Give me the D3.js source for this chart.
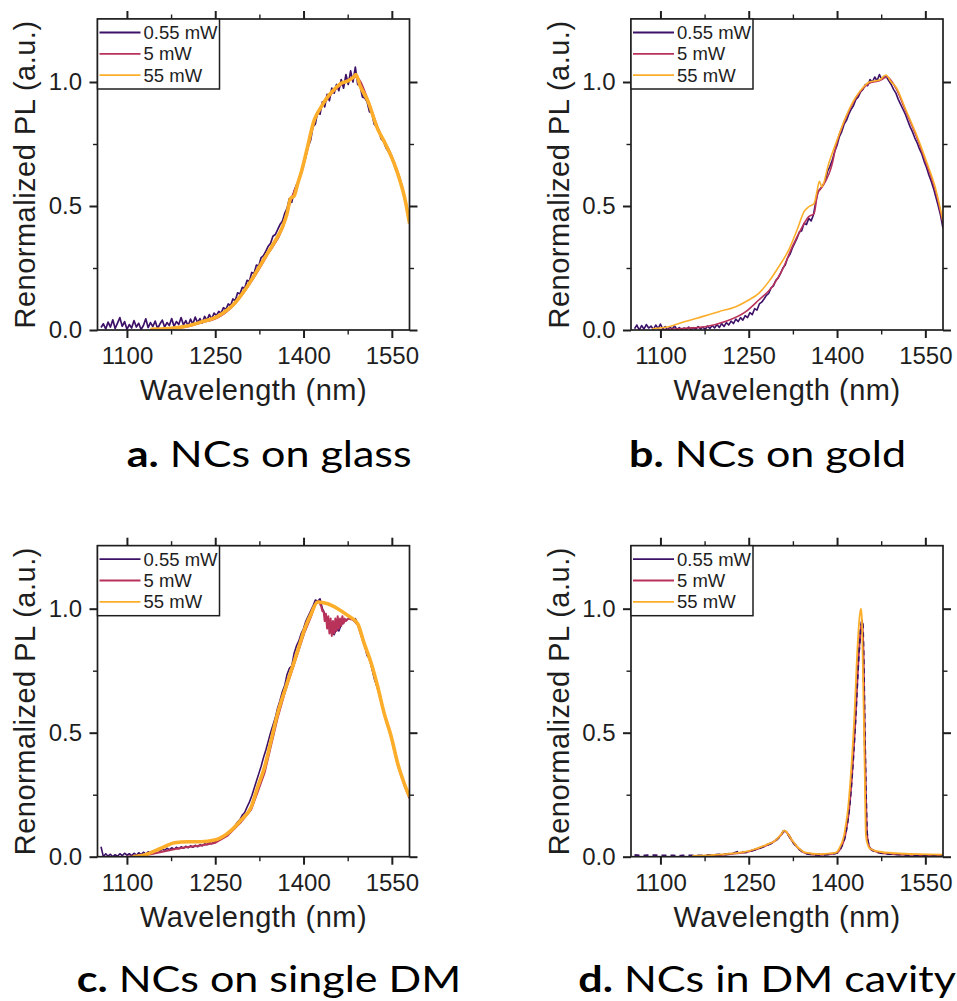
<!DOCTYPE html>
<html><head><meta charset="utf-8">
<script src="https://cdn.jsdelivr.net/npm/d3@7"></script>
<style>body{margin:0;background:#fff}svg{display:block}</style>
</head><body>
<svg id="chart" width="957" height="1001"></svg>
<script>
// ---------------- DATA ----------------
const seriesNames = ["0.55 mW", "5 mW", "55 mW"];
const seriesColors = ["#3d1168", "#b8325a", "#fcae2a"];
const xTickValues = [1100, 1250, 1400, 1550];
const xMinorTicks = [1175, 1325, 1475];
const yTickValues = [0, 0.5, 1.0];
const yTickLabels = ["0.0", "0.5", "1.0"];
const yMinorTicks = [0.25, 0.75];
const xTitle = "Wavelength (nm)";
const yTitle = "Renormalized PL (a.u.)";
const captionLetters = ["a.", "b.", "c.", "d."];
const captionTexts = [" NCs on glass", " NCs on gold", " NCs on single DM", " NCs in DM cavity"];

// spectrometer sampling (nm) for the noisy 0.55 mW traces
const wavelengthGrid = [
1056,1060,1064,1068,1072,1076,1080,1084,1088,1092,
1096,1100,1104,1108,1112,1116,1120,1124,1128,1132,
1136,1140,1144,1148,1152,1156,1160,1164,1168,1172,
1176,1180,1184,1188,1192,1196,1200,1204,1208,1212,
1216,1220,1224,1228,1232,1236,1240,1244,1248,1252,
1256,1260,1264,1268,1272,1276,1280,1284,1288,1292,
1296,1300,1304,1308,1312,1316,1320,1324,1328,1332,
1336,1340,1344,1348,1352,1356,1360,1364,1368,1372,
1376,1380,1384,1388,1392,1396,1400,1404,1408,1412,
1416,1420,1424,1428,1432,1436,1440,1444,1448,1452,
1456,1460,1464,1468,1472,1476,1480,1484,1488,1492,
1496,1500,1504,1508,1512,1516,1520,1524,1528,1532,
1536,1540,1544,1548,1552,1556,1560,1564,1568,1572,
1576,1580];

// a. NCs on glass
const glassLow = [
0.010,0.025,0.004,0.032,0.012,0.041,0.006,0.028,0.050,0.015,
0.034,0.003,0.022,0.008,0.038,0.012,0.027,0.002,0.018,0.045,
0.010,0.030,0.014,0.036,0.006,0.024,0.040,0.012,0.030,0.018,
0.046,0.015,0.034,0.022,0.050,0.020,0.038,0.016,0.044,0.024,
0.052,0.030,0.046,0.028,0.055,0.040,0.062,0.045,0.068,0.058,
0.075,0.068,0.090,0.082,0.105,0.098,0.125,0.118,0.150,0.145,
0.172,0.168,0.200,0.196,0.232,0.228,0.262,0.258,0.292,0.300,
0.318,0.338,0.350,0.378,0.385,0.405,0.425,0.438,0.470,0.490,
0.530,0.515,0.560,0.585,0.600,0.640,0.665,0.700,0.740,0.765,
0.820,0.830,0.880,0.870,0.920,0.900,0.950,0.925,0.975,0.955,
0.990,0.965,1.010,0.975,1.030,0.990,1.045,1.000,1.060,0.990,
0.985,0.940,0.935,0.920,0.880,0.875,0.830,0.820,0.800,0.770,
0.760,0.735,0.720,0.700,0.680,0.650,0.630,0.600,0.575,0.530,
0.480,0.430];
const glassMid = [[1140,0.002],[1200,0.012],[1226,0.030],[1254,0.050],[1283,0.105],[1311,0.195],[1339,0.305],[1365,0.415],[1378,0.520],[1396,0.630],[1418,0.840],[1441,0.935],[1464,0.990],[1489,1.020],[1509,0.930],[1526,0.815],[1549,0.705],[1566,0.590],[1580,0.440]];
const glassHigh = [[1140,0.003],[1170,0.006],[1200,0.015],[1226,0.032],[1254,0.055],[1270,0.080],[1283,0.108],[1297,0.150],[1311,0.200],[1325,0.255],[1339,0.310],[1352,0.360],[1365,0.420],[1372,0.470],[1378,0.530],[1384,0.540],[1390,0.590],[1396,0.635],[1405,0.720],[1418,0.845],[1430,0.900],[1441,0.940],[1452,0.970],[1464,0.995],[1476,1.005],[1485,1.020],[1489,1.030],[1496,0.985],[1509,0.925],[1526,0.810],[1538,0.755],[1549,0.700],[1558,0.645],[1566,0.585],[1573,0.520],[1580,0.430]];

// b. NCs on gold
const goldLow = [
0.005,0.020,0.000,0.018,0.004,0.022,0.008,0.016,0.002,0.020,
0.006,0.024,0.004,0.014,0.000,0.012,0.004,0.016,0.002,0.010,
0.000,0.008,0.002,0.012,0.000,0.010,0.003,0.014,0.004,0.012,
0.002,0.016,0.006,0.018,0.008,0.022,0.010,0.026,0.014,0.030,
0.020,0.036,0.026,0.044,0.034,0.050,0.040,0.058,0.050,0.070,
0.062,0.086,0.080,0.105,0.112,0.125,0.140,0.148,0.170,0.178,
0.200,0.210,0.228,0.250,0.262,0.290,0.305,0.330,0.350,0.370,
0.395,0.400,0.430,0.425,0.450,0.440,0.465,0.520,0.560,0.570,
0.585,0.600,0.640,0.660,0.685,0.720,0.745,0.780,0.800,0.830,
0.845,0.870,0.890,0.905,0.930,0.940,0.960,0.970,0.990,0.985,
1.010,1.000,1.020,1.005,1.030,1.010,1.020,1.020,1.005,0.990,
0.970,0.955,0.930,0.910,0.890,0.870,0.845,0.820,0.800,0.775,
0.755,0.730,0.710,0.680,0.655,0.625,0.600,0.570,0.535,0.500,
0.460,0.410];
const goldMid = [[1097,0.000],[1142,0.007],[1176,0.013],[1210,0.034],[1245,0.074],[1267,0.121],[1290,0.175],[1307,0.242],[1324,0.336],[1338,0.403],[1352,0.457],[1361,0.470],[1367,0.550],[1375,0.578],[1392,0.672],[1398,0.740],[1415,0.855],[1432,0.935],[1455,0.995],[1472,1.005],[1485,1.020],[1500,0.975],[1517,0.880],[1534,0.785],[1551,0.675],[1568,0.555],[1580,0.430]];
const goldHigh = [[1086,0.005],[1114,0.013],[1142,0.034],[1171,0.054],[1199,0.074],[1228,0.094],[1250,0.121],[1267,0.148],[1284,0.195],[1301,0.255],[1318,0.323],[1332,0.403],[1344,0.477],[1352,0.497],[1361,0.510],[1366,0.560],[1370,0.600],[1374,0.578],[1386,0.672],[1398,0.753],[1415,0.860],[1432,0.940],[1445,0.980],[1455,1.000],[1472,1.008],[1483,1.028],[1492,1.000],[1500,0.980],[1517,0.887],[1534,0.793],[1551,0.685],[1568,0.565],[1580,0.440]];

// c. NCs on single DM
const singleLow = [
0.040,0.000,0.012,0.002,0.010,0.000,0.008,0.002,0.012,0.004,
0.014,0.006,0.012,0.004,0.014,0.006,0.016,0.008,0.018,0.010,
0.020,0.014,0.024,0.018,0.028,0.022,0.030,0.026,0.034,0.028,
0.036,0.030,0.038,0.032,0.040,0.034,0.042,0.036,0.044,0.038,
0.046,0.040,0.048,0.044,0.052,0.048,0.058,0.052,0.062,0.060,
0.070,0.074,0.082,0.088,0.098,0.106,0.116,0.126,0.140,0.150,
0.168,0.178,0.200,0.220,0.245,0.275,0.305,0.335,0.365,0.400,
0.430,0.465,0.500,0.530,0.560,0.600,0.630,0.665,0.690,0.735,
0.760,0.770,0.820,0.850,0.870,0.900,0.920,0.950,0.970,0.990,
1.010,1.035,1.030,1.040,1.000,0.980,0.960,0.930,0.905,0.895,
0.920,0.910,0.935,0.945,0.955,0.960,0.965,0.955,0.960,0.940,
0.910,0.890,0.850,0.810,0.800,0.760,0.720,0.690,0.660,0.620,
0.590,0.550,0.520,0.490,0.460,0.420,0.380,0.350,0.320,0.290,
0.265,0.240];
const singleMid = [[1100,0.000],[1140,0.010],[1160,0.020],[1180,0.030],[1200,0.038],[1226,0.045],[1249,0.055],[1271,0.085],[1294,0.140],[1311,0.190],[1322,0.260],[1334,0.340],[1345,0.450],[1356,0.560],[1368,0.660],[1379,0.740],[1390,0.820],[1401,0.900],[1413,0.970],[1420,1.020],[1426,1.030],[1430,1.010],[1432,0.990],[1434,0.990],[1436,0.950],[1438,0.980],[1440,0.920],[1442,0.970],[1444,0.900],[1446,0.960],[1448,0.890],[1450,0.950],[1452,0.900],[1454,0.960],[1456,0.910],[1458,0.970],[1460,0.920],[1462,0.960],[1464,0.930],[1466,0.970],[1468,0.940],[1470,0.960],[1472,0.950],[1476,0.960],[1484,0.955],[1492,0.935],[1503,0.855],[1515,0.775],[1526,0.680],[1537,0.575],[1549,0.480],[1560,0.370],[1571,0.290],[1580,0.235]];
const singleHigh = [[1110,0.000],[1130,0.007],[1158,0.034],[1181,0.056],[1204,0.060],[1226,0.060],[1249,0.067],[1271,0.094],[1294,0.148],[1311,0.200],[1322,0.280],[1334,0.363],[1345,0.470],[1356,0.578],[1368,0.670],[1379,0.750],[1390,0.830],[1401,0.913],[1413,0.980],[1424,1.027],[1441,1.020],[1458,1.000],[1475,0.973],[1492,0.940],[1503,0.860],[1515,0.780],[1526,0.685],[1537,0.578],[1549,0.484],[1560,0.376],[1571,0.296],[1580,0.242]];

// d. NCs in DM cavity
const cavityLow = [[1056,0.006],[1070,0.004],[1085,0.006],[1100,0.004],[1115,0.005],[1130,0.003],[1145,0.005],[1160,0.004],[1180,0.006],[1200,0.008],[1222,0.013],[1235,0.020],[1245,0.018],[1256,0.025],[1279,0.045],[1296,0.066],[1305,0.088],[1310,0.104],[1314,0.100],[1318,0.086],[1324,0.063],[1330,0.045],[1338,0.026],[1347,0.014],[1370,0.008],[1392,0.012],[1400,0.016],[1406,0.034],[1410,0.055],[1414,0.087],[1417,0.130],[1420,0.180],[1425,0.316],[1431,0.545],[1437,0.820],[1441,0.930],[1443,0.954],[1445,0.800],[1447,0.500],[1449,0.250],[1451,0.090],[1454,0.045],[1458,0.030],[1475,0.015],[1500,0.010],[1540,0.006],[1580,0.006]];
const cavityMid = [[1160,0.002],[1200,0.006],[1222,0.012],[1245,0.018],[1256,0.025],[1279,0.045],[1296,0.066],[1305,0.088],[1310,0.104],[1314,0.100],[1318,0.086],[1324,0.063],[1330,0.045],[1338,0.026],[1347,0.014],[1370,0.008],[1392,0.012],[1400,0.016],[1406,0.034],[1410,0.055],[1414,0.087],[1417,0.130],[1420,0.180],[1425,0.316],[1431,0.545],[1437,0.820],[1441,0.930],[1443,0.954],[1445,0.800],[1447,0.500],[1449,0.250],[1451,0.090],[1454,0.045],[1458,0.030],[1475,0.015],[1500,0.010],[1540,0.007],[1580,0.005]];
const cavityHigh = [[1154,0.003],[1200,0.008],[1222,0.013],[1245,0.020],[1256,0.027],[1279,0.047],[1296,0.067],[1305,0.090],[1310,0.105],[1314,0.100],[1318,0.087],[1324,0.065],[1330,0.047],[1338,0.028],[1347,0.016],[1370,0.010],[1392,0.014],[1398,0.016],[1404,0.034],[1408,0.055],[1412,0.087],[1415,0.130],[1418,0.180],[1423,0.316],[1429,0.545],[1435,0.854],[1438,0.960],[1440.5,1.000],[1442,0.970],[1444,0.750],[1446,0.500],[1448,0.200],[1449,0.087],[1452,0.050],[1455,0.034],[1472,0.020],[1500,0.014],[1540,0.010],[1580,0.008]];

// ---------------- LAYOUT ----------------
const W = 312, H = 311;
const axisFont = "'Liberation Sans', Arial, Helvetica, sans-serif";
const textColor = "#1e1e1e";
const onGrid = vals => wavelengthGrid.slice(0, vals.length).map((w, i) => [w, vals[i]]);

const panels = [
  {left: 97.5, top: 19,    series: [onGrid(glassLow), glassMid, glassHigh],  widths: [1.7, 2, 3.6], dash: null, order: [0,1,2], capX: 126.7, capY: 466.7},
  {left: 631,  top: 19,    series: [onGrid(goldLow), goldMid, goldHigh],     widths: [1.6, 1.6, 1.6], dash: null, order: [0,1,2], capX: 629, capY: 466.7},
  {left: 97.5, top: 545.7, series: [onGrid(singleLow), singleMid, singleHigh], widths: [1.6, 2, 3.6], dash: null, order: [0,1,2], capX: 76.7, capY: 991.7},
  {left: 631,  top: 545.7, series: [cavityLow, cavityMid, cavityHigh],       widths: [2.2, 2, 1.8], dash: "5,4", order: [1,0,2], capX: 578.3, capY: 991.7}
];

const svg = d3.select("#chart");
svg.append("rect").attr("width", 957).attr("height", 1001).attr("fill", "#fff");

const x = d3.scaleLinear().domain([1050, 1580]).range([0, W]);
const y = d3.scaleLinear().domain([0, 1.254]).range([H, 0]);

panels.forEach((p, pi) => {
  const g = svg.append("g").attr("transform", `translate(${p.left},${p.top})`);
  const clipId = "clip" + pi;
  g.append("clipPath").attr("id", clipId).append("rect").attr("width", W).attr("height", H);

  const lineSmooth = d3.line().x(d => x(d[0])).y(d => y(d[1])).curve(d3.curveMonotoneX);
  const lineRaw = d3.line().x(d => x(d[0])).y(d => y(d[1]));

  const plot = g.append("g").attr("clip-path", `url(#${clipId})`);
  p.order.forEach(si => {
    const path = plot.append("path")
      .datum(p.series[si])
      .attr("fill", "none")
      .attr("stroke", seriesColors[si])
      .attr("stroke-width", p.widths[si])
      .attr("stroke-linejoin", "round")
      .attr("d", ((si === 0 && pi < 3) || (si === 1 && pi === 2)) ? lineRaw : lineSmooth);
    if (si === 0 && p.dash) path.attr("stroke-dasharray", p.dash);
  });

  // axes
  const styleAxis = (sel, w) => {
    sel.select(".domain").remove();
    sel.selectAll(".tick line").attr("stroke", "#1e1e1e").attr("stroke-width", w);
    sel.selectAll("text").attr("font-family", axisFont).attr("font-size", 24).attr("fill", textColor);
  };
  g.append("g").attr("transform", `translate(0,${H})`)
    .call(d3.axisBottom(x).tickValues(xTickValues).tickSize(8).tickPadding(9).tickFormat(d3.format("d")))
    .call(s => styleAxis(s, 2));
  g.append("g").attr("transform", `translate(0,${H})`)
    .call(d3.axisBottom(x).tickValues(xMinorTicks).tickSize(4.5).tickFormat(""))
    .call(s => styleAxis(s, 1.4));
  g.append("g").call(d3.axisTop(x).tickValues(xTickValues).tickSize(8).tickFormat(""))
    .call(s => styleAxis(s, 2));
  g.append("g").call(d3.axisTop(x).tickValues(xMinorTicks).tickSize(4.5).tickFormat(""))
    .call(s => styleAxis(s, 1.4));
  g.append("g")
    .call(d3.axisLeft(y).tickValues(yTickValues).tickSize(8).tickPadding(7.5).tickFormat((d, i) => yTickLabels[i]))
    .call(s => styleAxis(s, 2));
  g.append("g").call(d3.axisLeft(y).tickValues(yMinorTicks).tickSize(4.5).tickFormat(""))
    .call(s => styleAxis(s, 1.4));
  g.append("g").attr("transform", `translate(${W},0)`)
    .call(d3.axisRight(y).tickValues(yTickValues).tickSize(8).tickFormat(""))
    .call(s => styleAxis(s, 2));
  g.append("g").attr("transform", `translate(${W},0)`)
    .call(d3.axisRight(y).tickValues(yMinorTicks).tickSize(4.5).tickFormat(""))
    .call(s => styleAxis(s, 1.4));

  g.append("rect").attr("width", W).attr("height", H)
    .attr("fill", "none").attr("stroke", "#1e1e1e").attr("stroke-width", 1.7);

  // titles
  g.append("text").attr("x", W / 2).attr("y", H + 70)
    .attr("text-anchor", "middle").attr("font-family", axisFont).attr("font-size", 29)
    .attr("letter-spacing", 0.5).attr("fill", textColor).text(xTitle);
  g.append("text").attr("transform", `translate(-62.5,${H / 2}) rotate(-90)`)
    .attr("text-anchor", "middle").attr("font-family", axisFont).attr("font-size", 29)
    .attr("letter-spacing", 0.5).attr("fill", textColor).text(yTitle);

  // legend
  const lg = g.append("g");
  lg.append("rect").attr("x", 0).attr("y", 0).attr("width", 122).attr("height", 70)
    .attr("fill", "#fff").attr("stroke", "#1e1e1e").attr("stroke-width", 1.5);
  seriesNames.forEach((name, i) => {
    const yy = 13.5 + i * 21.3;
    lg.append("line").attr("x1", 2).attr("x2", 43).attr("y1", yy).attr("y2", yy)
      .attr("stroke", seriesColors[i]).attr("stroke-width", 1.8);
    lg.append("text").attr("x", 46).attr("y", yy).attr("dy", "0.36em")
      .attr("font-family", axisFont).attr("font-size", 18.5).attr("fill", textColor).text(name);
  });
});

// captions
const capFont = "Lato, 'Open Sans', sans-serif";
const caps = panels.map((p, i) => {
  const t = svg.append("text").attr("font-family", capFont).attr("font-size", 37).attr("fill", "#000");
  t.append("tspan").attr("font-weight", "bold").text(captionLetters[i]);
  t.append("tspan").text(captionTexts[i]);
  return t;
});
const natA = caps[0].node().getComputedTextLength();
const k = 285 / natA;
caps.forEach((t, i) => {
  t.attr("transform", `translate(${panels[i].capX},${panels[i].capY}) scale(${k},1)`);
});
</script>
</body></html>
